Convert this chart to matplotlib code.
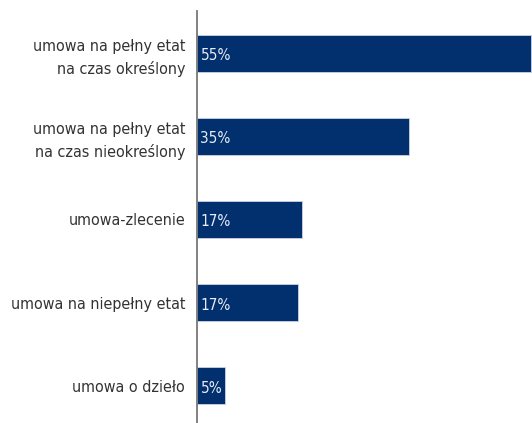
import matplotlib.pyplot as plt

# Dane: rodzaje umów i udział (%)
kategorie = ['umowa na pełny etat\nna czas określony',
             'umowa na pełny etat\nna czas nieokreślony',
             'umowa-zlecenie',
             'umowa na niepełny etat',
             'umowa o dzieło']
wartosci = [55, 35, 17.3, 16.6, 4.7]
etykiety = ['55%', '35%', '17%', '17%', '5%']

plt.rcParams['font.family'] = ['DejaVu Sans']
plt.rcParams['font.stretch'] = 'condensed'

fig = plt.figure(figsize=(5.32, 4.23), dpi=100)
ax = fig.add_axes([0.370, 0.0, 0.630, 0.974])

pozycje = list(range(len(kategorie)))
ax.barh(pozycje, wartosci, height=0.445, color='#022f6e', edgecolor='#c9d3e3', linewidth=0.6)

for y, v, e in zip(pozycje, wartosci, etykiety):
    ax.text(0.6, y + 0.03, e, va='center', ha='left', color='#e8edf5', fontsize=11)

ax.set_xlim(0, 55.2)
ax.set_ylim(4.45, -0.51)
ax.set_yticks(pozycje)
ax.set_yticklabels(kategorie, fontsize=11.5, color='#333333', linespacing=1.5)
ax.tick_params(axis='y', length=0, pad=8.5)
ax.set_xticks([])

for s in ['top', 'right', 'bottom']:
    ax.spines[s].set_visible(False)
ax.spines['left'].set_color('#777777')
ax.spines['left'].set_linewidth(1.3)

fig.savefig('out.png', dpi=100)
